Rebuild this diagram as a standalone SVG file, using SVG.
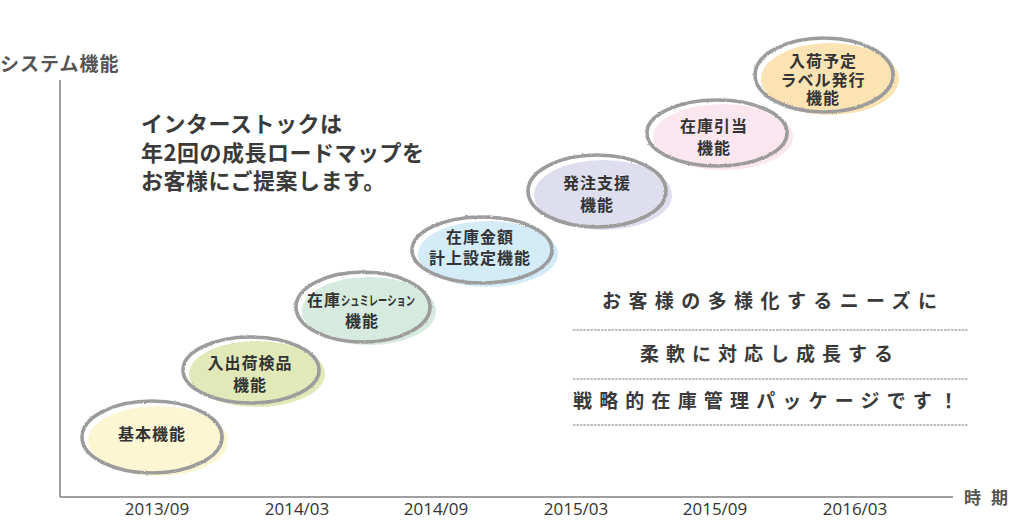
<svg xmlns="http://www.w3.org/2000/svg" width="1012" height="525" viewBox="0 0 1012 525">
<defs>
<filter id="rough" x="-10%" y="-10%" width="120%" height="120%">
<feTurbulence type="fractalNoise" baseFrequency="0.9" numOctaves="2" seed="3" result="n"/>
<feDisplacementMap in="SourceGraphic" in2="n" scale="2.2" xChannelSelector="R" yChannelSelector="G"/>
</filter>
<style>
.ring{fill:none;stroke:#9c9c9c;stroke-width:3.6}
.nt{font-family:"Noto Sans CJK JP",sans-serif;font-weight:700;font-size:16px;fill:#333;text-anchor:middle;letter-spacing:1px}
.ns{font-family:"Noto Sans CJK JP",sans-serif;font-weight:700;fill:#333}
.axis{stroke:#808080;stroke-width:1.5;fill:none}
.ax{font-family:"Noto Sans CJK JP",sans-serif;font-weight:700;fill:#555}
.date{font-family:"Open Sans",sans-serif;font-size:17px;fill:#333;text-anchor:middle}
.main{font-family:"Noto Sans CJK JP",sans-serif;font-weight:700;font-size:22px;fill:#3a3a3a;letter-spacing:0.5px}
.msg{font-family:"Noto Sans CJK JP",sans-serif;font-weight:700;font-size:19px;fill:#3a3a3a}
.dash{stroke:#a8a8a8;stroke-width:1.3;stroke-dasharray:2.5 1;fill:none}
</style>
</defs>
<rect width="1012" height="525" fill="#fff"/>
<g id="axes">
<line class="axis" x1="60" y1="80" x2="60" y2="497"/>
<line class="axis" x1="60" y1="497" x2="953" y2="497"/>
<text class="ax" x="0" y="71" font-size="19" letter-spacing="1">システム機能</text>
<text class="ax" x="964" y="504" font-size="17">時</text>
<text class="ax" x="991" y="504" font-size="17">期</text>
</g>
<g id="dates">
<text class="date" x="157" y="515">2013/09</text>
<text class="date" x="297" y="515">2014/03</text>
<text class="date" x="436" y="515">2014/09</text>
<text class="date" x="576" y="515">2015/03</text>
<text class="date" x="715" y="515">2015/09</text>
<text class="date" x="855" y="515">2016/03</text>
</g>
<g id="intro">
<text class="main" x="141" y="132">インターストックは</text>
<text class="main" x="141" y="161">年2回の成長ロードマップを</text>
<text class="main" x="141" y="189">お客様にご提案します。</text>
</g>
<g id="message">
<text class="msg" x="602" y="308" textLength="335" lengthAdjust="spacing">お客様の多様化するニーズに</text>
<line class="dash" x1="573" y1="330" x2="968" y2="330"/>
<text class="msg" x="640" y="361" textLength="253" lengthAdjust="spacing">柔軟に対応し成長する</text>
<line class="dash" x1="573" y1="379" x2="968" y2="379"/>
<text class="msg" x="573" y="408" textLength="385" lengthAdjust="spacing">戦略的在庫管理パッケージです！</text>
<line class="dash" x1="573" y1="425" x2="968" y2="425"/>
</g>
<g id="n1">
<ellipse cx="158" cy="441" rx="70" ry="35" fill="#fdf6d3"/>
<ellipse class="ring" cx="152" cy="437" rx="70" ry="36" filter="url(#rough)"/>
<text class="nt" x="152" y="440">基本機能</text>
</g>
<g id="n2">
<ellipse cx="257" cy="374" rx="68" ry="33" fill="#e2e9b8"/>
<ellipse class="ring" cx="251" cy="370" rx="68" ry="33" filter="url(#rough)"/>
<text class="nt" x="250" y="369">入出荷検品</text>
<text class="nt" x="250" y="391">機能</text>
</g>
<g id="n3">
<ellipse cx="369" cy="311" rx="67" ry="34" fill="#d6eae0"/>
<ellipse class="ring" cx="363" cy="307" rx="67" ry="35" filter="url(#rough)"/>
<text class="ns" x="307" y="306" font-size="16" letter-spacing="1">在庫</text>
<text class="ns" x="341" y="305" font-size="13" textLength="74" lengthAdjust="spacingAndGlyphs">シュミレーション</text>
<text class="nt" x="362" y="327">機能</text>
</g>
<g id="n4">
<ellipse cx="488" cy="254" rx="70" ry="33" fill="#d4ecf8"/>
<ellipse class="ring" cx="482" cy="250" rx="70" ry="33" filter="url(#rough)"/>
<text class="nt" x="480" y="243">在庫金額</text>
<text class="nt" x="480" y="264">計上設定機能</text>
</g>
<g id="n5">
<ellipse cx="603" cy="195" rx="69" ry="35" fill="#dedeef"/>
<ellipse class="ring" cx="597" cy="191" rx="69" ry="36" filter="url(#rough)"/>
<text class="nt" x="597" y="189">発注支援</text>
<text class="nt" x="597" y="211">機能</text>
</g>
<g id="n6">
<ellipse cx="723" cy="137" rx="70" ry="33" fill="#fce6ef"/>
<ellipse class="ring" cx="717" cy="133" rx="70" ry="33" filter="url(#rough)"/>
<text class="nt" x="714" y="132">在庫引当</text>
<text class="nt" x="714" y="154">機能</text>
</g>
<g id="n7">
<ellipse cx="830" cy="79" rx="69" ry="36" fill="#fbe3b3"/>
<ellipse class="ring" cx="824" cy="75" rx="69" ry="37" filter="url(#rough)"/>
<text class="nt" x="823" y="67" font-size="15">入荷予定</text>
<text class="nt" x="823" y="86" font-size="15">ラベル発行</text>
<text class="nt" x="823" y="104" font-size="15">機能</text>
</g>
</svg>
